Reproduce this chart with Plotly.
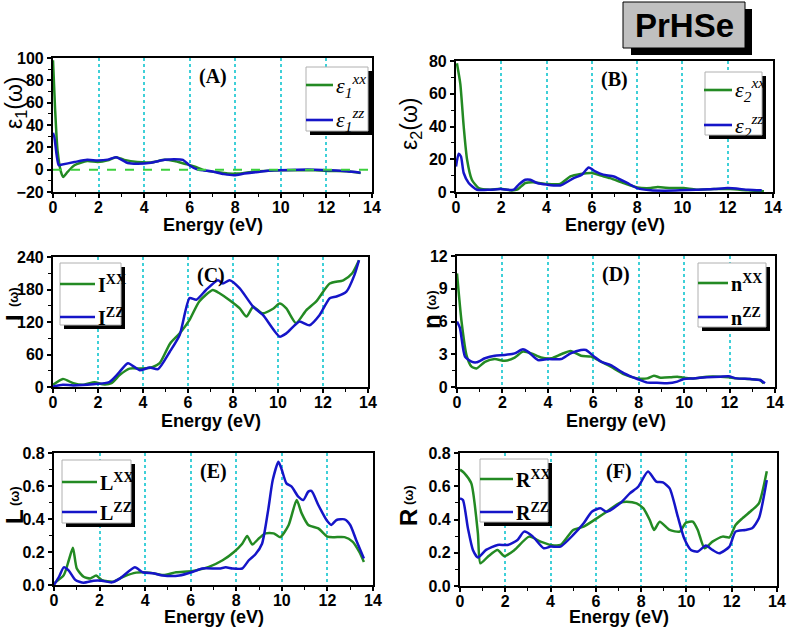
import plotly.graph_objects as go

W, H = 789, 628

# ---------------- data ----------------
# (A) real part of dielectric function
eps1_xx_x = [0, 0.09, 0.2, 0.35, 0.45, 0.64, 0.94, 1.5, 1.96, 2.4, 2.77, 3.13, 3.7, 4.3, 4.9, 5.33, 5.77, 6.2, 6.65, 7.1, 7.67, 8.1, 8.7, 9.28, 10.0, 10.75, 11.5, 12.2, 12.9, 13.5]
eps1_xx_y = [98, 55, 17, -2, -6.5, -2, 4, 7.7, 6.8, 8.3, 11.2, 8.8, 6.8, 6.5, 8.8, 7.7, 5.3, 3, -0.6, -2, -3.5, -3.5, -2, -1.2, -0.6, -0.6, -0.6, -1.2, -1.5, -3]
eps1_zz_x = [0, 0.06, 0.16, 0.25, 0.35, 0.94, 1.5, 1.96, 2.4, 2.77, 3.28, 3.7, 4.3, 4.9, 5.33, 5.7, 6.0, 6.35, 6.94, 7.5, 7.96, 8.4, 9.0, 9.7, 10.75, 11.5, 12.2, 12.9, 13.5]
eps1_zz_y = [33, 29, 13, 4, 4.4, 6.8, 8.8, 8.3, 9, 11.2, 6, 5.3, 6.2, 8.8, 9.4, 8.8, 3.8, 0, -1.5, -4, -5, -3.5, -2, -0.6, 0, 0, -0.6, -1.5, -2.7]

# (B) imaginary part of dielectric function
eps2_xx_x = [0.04, 0.19, 0.34, 0.49, 0.7, 1.0, 1.5, 1.96, 2.4, 2.7, 3.06, 3.4, 4.0, 4.6, 5.05, 5.5, 6.0, 6.4, 6.8, 7.4, 8.0, 8.6, 8.9, 9.5, 10.05, 10.6, 11.4, 12.1, 12.9, 13.6]
eps2_xx_y = [78.6, 66, 40, 19.7, 7.5, 2.4, 1.4, 2, 1, 1.4, 5.5, 6, 4.9, 4.9, 9.5, 11, 11.6, 10, 8.5, 5.5, 2.8, 2.4, 3, 2.4, 2.4, 1.4, 1.8, 1.8, 1, 0.4]
eps2_zz_x = [0, 0.12, 0.22, 0.34, 0.56, 0.93, 1.5, 1.96, 2.55, 2.77, 3.06, 3.28, 3.58, 4.0, 4.6, 5.2, 5.56, 5.86, 6.15, 6.5, 6.97, 7.56, 8.0, 8.6, 9.2, 9.9, 10.6, 11.4, 12.0, 12.9, 13.5]
eps2_zz_y = [15.6, 23.4, 21.7, 11.6, 5.5, 1.4, 1.4, 1.8, 1.4, 4.5, 7.5, 7.5, 5.5, 4.5, 4, 8.5, 10.6, 15, 12.6, 10.6, 9.5, 5.5, 2.4, 1, 0.8, 1, 1.4, 1.8, 2.4, 1.4, 1]

# (C) absorption
abs_xx_x = [0, 0.44, 0.9, 1.33, 1.85, 2.2, 2.6, 2.96, 3.4, 4.0, 4.44, 4.74, 5.2, 5.63, 6.07, 6.5, 7.1, 7.4, 7.85, 8.3, 8.6, 8.9, 9.3, 9.8, 10.07, 10.37, 10.8, 11.26, 11.7, 12.3, 12.9, 13.3, 13.6]
abs_xx_y = [4, 15, 7, 4, 9, 5, 7, 22, 34, 34, 37, 44, 80, 99, 124, 158, 179, 173, 160, 145, 130, 148, 136, 145, 154, 145, 118, 142, 158, 191, 197, 210, 234]
abs_zz_x = [0, 0.44, 0.9, 1.78, 2.5, 2.9, 3.33, 3.85, 4.3, 4.67, 5.19, 5.63, 6.07, 6.37, 6.8, 7.33, 7.55, 7.85, 8.3, 8.9, 9.33, 10.07, 10.37, 10.67, 10.96, 11.4, 11.85, 12.3, 12.6, 13.04, 13.4, 13.6]
abs_zz_y = [1, 4, 3, 5, 9, 25, 44, 31, 36, 33, 65, 96, 164, 161, 179, 197, 191, 197, 182, 148, 133, 93, 99, 111, 121, 114, 133, 164, 167, 176, 207, 234]

# (D) refractive index
n_xx_x = [0, 0.2, 0.42, 0.64, 0.86, 1.23, 1.66, 2.1, 2.54, 2.9, 3.27, 3.7, 4.15, 4.58, 5.0, 5.46, 5.9, 6.34, 6.77, 7.36, 7.94, 8.38, 8.67, 8.96, 9.4, 9.7, 9.98, 10.4, 11.0, 11.6, 11.96, 12.3, 12.9, 13.34, 13.5]
n_xx_y = [10.4, 6.0, 2.9, 1.86, 1.7, 2.3, 2.56, 2.4, 2.7, 3.24, 3.08, 2.7, 2.63, 3.0, 3.3, 2.87, 2.78, 2.32, 1.86, 1.16, 0.79, 0.79, 1.04, 0.85, 0.89, 0.95, 0.85, 0.79, 0.95, 0.95, 0.89, 0.79, 0.73, 0.64, 0.34]
n_zz_x = [0, 0.13, 0.35, 0.64, 0.86, 1.23, 1.66, 2.1, 2.54, 2.9, 3.12, 3.56, 4.0, 4.58, 5.0, 5.46, 5.68, 6.04, 6.34, 6.77, 7.36, 7.94, 8.38, 8.8, 9.25, 9.7, 9.98, 10.4, 11.0, 11.6, 11.96, 12.3, 12.9, 13.34, 13.56]
n_zz_y = [6.0, 5.4, 2.78, 2.32, 2.26, 2.63, 2.87, 2.93, 3.08, 3.45, 3.24, 2.47, 2.56, 2.56, 3.08, 3.39, 3.39, 2.78, 2.32, 2.0, 1.25, 0.73, 0.4, 0.4, 0.34, 0.49, 0.73, 0.79, 0.89, 0.95, 0.98, 0.79, 0.73, 0.64, 0.34]

# (E) energy loss
L_xx_x = [0, 0.43, 0.65, 0.83, 1.0, 1.3, 1.6, 1.85, 2.1, 2.6, 3.04, 3.6, 4.2, 4.8, 5.36, 6.1, 6.8, 7.4, 7.9, 8.26, 8.48, 8.7, 9.0, 9.28, 9.64, 9.93, 10.3, 10.65, 10.87, 11.16, 11.6, 12.0, 12.3, 12.75, 13.1, 13.4, 13.6]
L_xx_y = [0.01, 0.06, 0.15, 0.226, 0.10, 0.05, 0.04, 0.057, 0.03, 0.02, 0.05, 0.075, 0.075, 0.06, 0.077, 0.085, 0.11, 0.15, 0.2, 0.25, 0.297, 0.246, 0.283, 0.313, 0.313, 0.29, 0.364, 0.515, 0.434, 0.364, 0.343, 0.293, 0.29, 0.29, 0.263, 0.2, 0.14]
L_zz_x = [0, 0.22, 0.43, 0.65, 0.94, 1.3, 1.74, 2.1, 2.54, 2.9, 3.55, 3.9, 4.35, 4.78, 5.5, 6.1, 6.5, 7.25, 7.54, 7.83, 8.26, 8.55, 8.84, 9.13, 9.4, 9.6, 9.85, 10.0, 10.2, 10.43, 10.72, 10.94, 11.16, 11.3, 11.6, 11.96, 12.17, 12.4, 12.75, 13.0, 13.26, 13.6]
L_zz_y = [0, 0.05, 0.107, 0.087, 0.03, 0.014, 0.026, 0.026, 0.016, 0.04, 0.107, 0.077, 0.071, 0.057, 0.057, 0.08, 0.10, 0.10, 0.107, 0.10, 0.10, 0.15, 0.186, 0.25, 0.455, 0.636, 0.747, 0.697, 0.616, 0.596, 0.535, 0.515, 0.566, 0.57, 0.485, 0.394, 0.364, 0.394, 0.398, 0.364, 0.273, 0.16]

# (F) reflectivity
R_xx_x = [0, 0.2, 0.5, 0.79, 0.9, 1.23, 1.66, 1.96, 2.4, 3.05, 3.56, 4.0, 4.44, 5.0, 5.46, 6.04, 6.48, 7.07, 7.36, 7.8, 8.1, 8.38, 8.57, 8.82, 9.26, 9.7, 9.98, 10.28, 10.5, 10.8, 11.15, 11.6, 11.9, 12.17, 12.47, 12.9, 13.2, 13.55]
R_xx_y = [0.70, 0.678, 0.617, 0.317, 0.136, 0.176, 0.216, 0.18, 0.216, 0.297, 0.267, 0.247, 0.247, 0.337, 0.357, 0.407, 0.447, 0.501, 0.507, 0.497, 0.467, 0.397, 0.337, 0.387, 0.337, 0.327, 0.381, 0.387, 0.337, 0.227, 0.267, 0.297, 0.293, 0.367, 0.407, 0.457, 0.497, 0.69]
R_zz_x = [0, 0.13, 0.35, 0.57, 0.79, 1.15, 1.66, 2.1, 2.54, 2.83, 3.2, 3.7, 4.0, 4.44, 5.0, 5.46, 5.82, 6.2, 6.48, 7.07, 7.5, 7.87, 8.3, 8.67, 8.96, 9.26, 9.62, 9.9, 10.2, 10.5, 10.86, 11.15, 11.45, 11.9, 12.17, 12.6, 12.9, 13.2, 13.55]
R_zz_y = [0.527, 0.517, 0.347, 0.217, 0.172, 0.217, 0.247, 0.247, 0.277, 0.327, 0.3, 0.227, 0.237, 0.237, 0.307, 0.377, 0.447, 0.467, 0.447, 0.497, 0.557, 0.597, 0.688, 0.628, 0.623, 0.587, 0.417, 0.287, 0.217, 0.207, 0.243, 0.217, 0.197, 0.237, 0.327, 0.337, 0.347, 0.407, 0.637]

x_ticks = [0, 2, 4, 6, 8, 10, 12, 14]
x_title = "Energy (eV)"

GREEN = "#238a23"
BLUE = "#1515c8"
GRID = "#3fd0d8"

# ytitle parts: list of (text, size, bold, x_px, y_px)
panels = [
    dict(box=(53, 58, 372, 192), yr=(-20, 100), dt=20, mn=10, fmt=None,
         ytitle=[("ε<sub>1</sub>(ω)", 23, False, 15, 103)], xty=225, lab="(A)",
         leg=(306, 67, 368, 131, 85, 120, 306, 333),
         legtxt=["<i>ε<sub>1</sub><sup>xx</sup></i>", "<i>ε<sub>1</sub><sup>zz</sup></i>"], legsize=22,
         s=[(eps1_xx_x, eps1_xx_y), (eps1_zz_x, eps1_zz_y)]),
    dict(box=(456, 61, 773, 192), yr=(0, 80), dt=20, mn=10, fmt=None,
         ytitle=[("ε<sub>2</sub>(ω)", 23, False, 411, 124)], xty=225, lab="(B)",
         leg=(705, 72, 762, 135, 90, 125, 704, 732),
         legtxt=["<i>ε<sub>2</sub><sup>xx</sup></i>", "<i>ε<sub>2</sub><sup>zz</sup></i>"], legsize=22,
         s=[(eps2_xx_x, eps2_xx_y), (eps2_zz_x, eps2_zz_y)]),
    dict(box=(53, 257, 368, 387), yr=(0, 240), dt=60, mn=30, fmt=None,
         ytitle=[("I", 24, True, 14, 318), ("(ω)", 13, True, 14, 297)], xty=421, lab="(C)",
         leg=(60, 263, 121, 325, 284, 317, 60, 95),
         legtxt=["<b>I<sup>XX</sup></b>", "<b>I<sup>ZZ</sup></b>"], legsize=20,
         s=[(abs_xx_x, abs_xx_y), (abs_zz_x, abs_zz_y)]),
    dict(box=(457, 256, 775, 387), yr=(0, 12), dt=3, mn=1.5, fmt=None,
         ytitle=[("n", 24, True, 431, 322), ("(ω)", 13, True, 431, 300)], xty=421, lab="(D)",
         leg=(698, 263, 766, 327, 283, 317, 698, 728),
         legtxt=["<b>n<sup>XX</sup></b>", "<b>n<sup>ZZ</sup></b>"], legsize=20,
         s=[(n_xx_x, n_xx_y), (n_zz_x, n_zz_y)]),
    dict(box=(54, 453, 373, 585), yr=(0, 0.8), dt=0.2, mn=0.1, fmt=".1f",
         ytitle=[("L", 24, True, 14, 517), ("(ω)", 13, True, 14, 496)], xty=617, lab="(E)",
         leg=(62, 460, 131, 523, 482, 512, 62, 97),
         legtxt=["<b>L<sup>XX</sup></b>", "<b>L<sup>ZZ</sup></b>"], legsize=20,
         s=[(L_xx_x, L_xx_y), (L_zz_x, L_zz_y)]),
    dict(box=(460, 453, 777, 586), yr=(0, 0.8), dt=0.2, mn=0.1, fmt=".1f",
         ytitle=[("R", 24, True, 408, 518), ("(ω)", 13, True, 408, 495)], xty=617, lab="(F)",
         leg=(480, 459, 548, 522, 479, 512, 480, 513),
         legtxt=["<b>R<sup>XX</sup></b>", "<b>R<sup>ZZ</sup></b>"], legsize=20,
         s=[(R_xx_x, R_xx_y), (R_zz_x, R_zz_y)]),
]

def px(x):
    return x / W

def py(y):
    return 1 - y / H

fig = go.Figure()
shapes = []
annotations = []
layout_axes = {}

tickfont = dict(family="Liberation Sans", size=16, color="black", weight="bold")

for i, p in enumerate(panels):
    k = "" if i == 0 else str(i + 1)
    l, t, r, b = p["box"]
    xa, ya = "x" + k, "y" + k
    for j, (xs, ys) in enumerate(p["s"]):
        fig.add_trace(go.Scatter(
            x=xs, y=ys, mode="lines", xaxis=xa, yaxis=ya, showlegend=False,
            line=dict(color=GREEN if j == 0 else BLUE, width=2.5, shape="spline", smoothing=0.6),
            name=["xx", "zz"][j]))
    layout_axes["xaxis" + k] = dict(
        domain=[px(l), px(r)], anchor=ya, range=[0, 14], tickvals=x_ticks,
        automargin=False, ticklabelstandoff=-4,
        showgrid=True, gridcolor=GRID, griddash="dot", gridwidth=2,
        showline=True, linecolor="black", linewidth=2.2, mirror=True,
        ticks="outside", ticklen=4, tickwidth=1.5, tickcolor="black",
        minor=dict(dtick=1, ticks="outside", ticklen=2.5, tickwidth=1.2, tickcolor="black", showgrid=False),
        tickfont=tickfont, zeroline=False)
    yax = dict(
        domain=[py(b), py(t)], anchor=xa, range=list(p["yr"]), dtick=p["dt"],
        tick0=p["yr"][0], showgrid=False, zeroline=False, automargin=False,
        showline=True, linecolor="black", linewidth=2.2, mirror=True,
        ticks="outside", ticklen=4, tickwidth=1.5, tickcolor="black",
        minor=dict(dtick=p["mn"], ticks="outside", ticklen=2.5, tickwidth=1.2, tickcolor="black", showgrid=False),
        tickfont=tickfont)
    if p["fmt"]:
        yax["tickformat"] = p["fmt"]
    layout_axes["yaxis" + k] = yax

    # axis titles
    annotations.append(dict(
        x=px((l + r) / 2), y=py(p["xty"]), xref="paper", yref="paper", text=x_title,
        showarrow=False, xanchor="center", yanchor="middle",
        font=dict(family="Liberation Sans", size=18, color="black", weight="bold")))
    for (txt, sz, bold, tx, ty) in p["ytitle"]:
        annotations.append(dict(
            x=px(tx), y=py(ty), xref="paper", yref="paper", text=txt,
            showarrow=False, xanchor="center", yanchor="middle", textangle=-90,
            font=dict(family="Liberation Sans", size=sz, color="black",
                      weight="bold" if bold else "normal")))

    # panel label
    annotations.append(dict(
        x=7.0, y=1, xref=xa, yref=ya + " domain", yshift=-5, text="<b>%s</b>" % p["lab"],
        showarrow=False, font=dict(family="Liberation Serif", size=20, color="black"),
        xanchor="center", yanchor="top"))

    # legend box with shadow
    bl, bt, br, bb, y1, y2, lx0, lx1 = p["leg"]
    shapes.append(dict(type="rect", xref="paper", yref="paper",
                       x0=px(bl + 4), x1=px(br + 4), y0=py(bb + 4), y1=py(bt + 4),
                       fillcolor="black", line=dict(width=0), layer="above"))
    shapes.append(dict(type="rect", xref="paper", yref="paper",
                       x0=px(bl), x1=px(br), y0=py(bb), y1=py(bt),
                       fillcolor="white", line=dict(color="#b0b0b0", width=1), layer="above"))
    for j, yy in enumerate([y1, y2]):
        shapes.append(dict(type="line", xref="paper", yref="paper",
                           x0=px(lx0), x1=px(lx1), y0=py(yy), y1=py(yy),
                           line=dict(color=GREEN if j == 0 else BLUE, width=2.6), layer="above"))
        annotations.append(dict(
            x=px(lx1 + 1), y=py(yy), xref="paper", yref="paper", text=p["legtxt"][j],
            showarrow=False, xanchor="left", yanchor="middle",
            font=dict(family="Liberation Serif", size=p["legsize"], color="black")))

# zero dashed line in panel A
shapes.append(dict(type="line", xref="x domain", yref="y", x0=0, x1=1, y0=0, y1=0,
                   line=dict(color="#3cd03c", width=2, dash="dash"), layer="above"))

# title box
shapes.append(dict(type="rect", xref="paper", yref="paper",
                   x0=px(631), x1=px(752), y0=py(55), y1=py(9),
                   fillcolor="black", line=dict(width=0)))
shapes.append(dict(type="rect", xref="paper", yref="paper",
                   x0=px(623), x1=px(745), y0=py(48), y1=py(2),
                   fillcolor="#c0c0c0", line=dict(color="black", width=1)))
annotations.append(dict(x=px(684), y=py(26), xref="paper", yref="paper",
                        text="<b>PrHSe</b>", showarrow=False,
                        font=dict(family="Liberation Sans", size=33, color="black"),
                        xanchor="center", yanchor="middle"))

fig.update_layout(
    width=W, height=H, margin=dict(l=0, r=0, t=0, b=0),
    paper_bgcolor="white", plot_bgcolor="white",
    shapes=shapes, annotations=annotations, showlegend=False,
    **layout_axes)

fig.write_html("out.html")
